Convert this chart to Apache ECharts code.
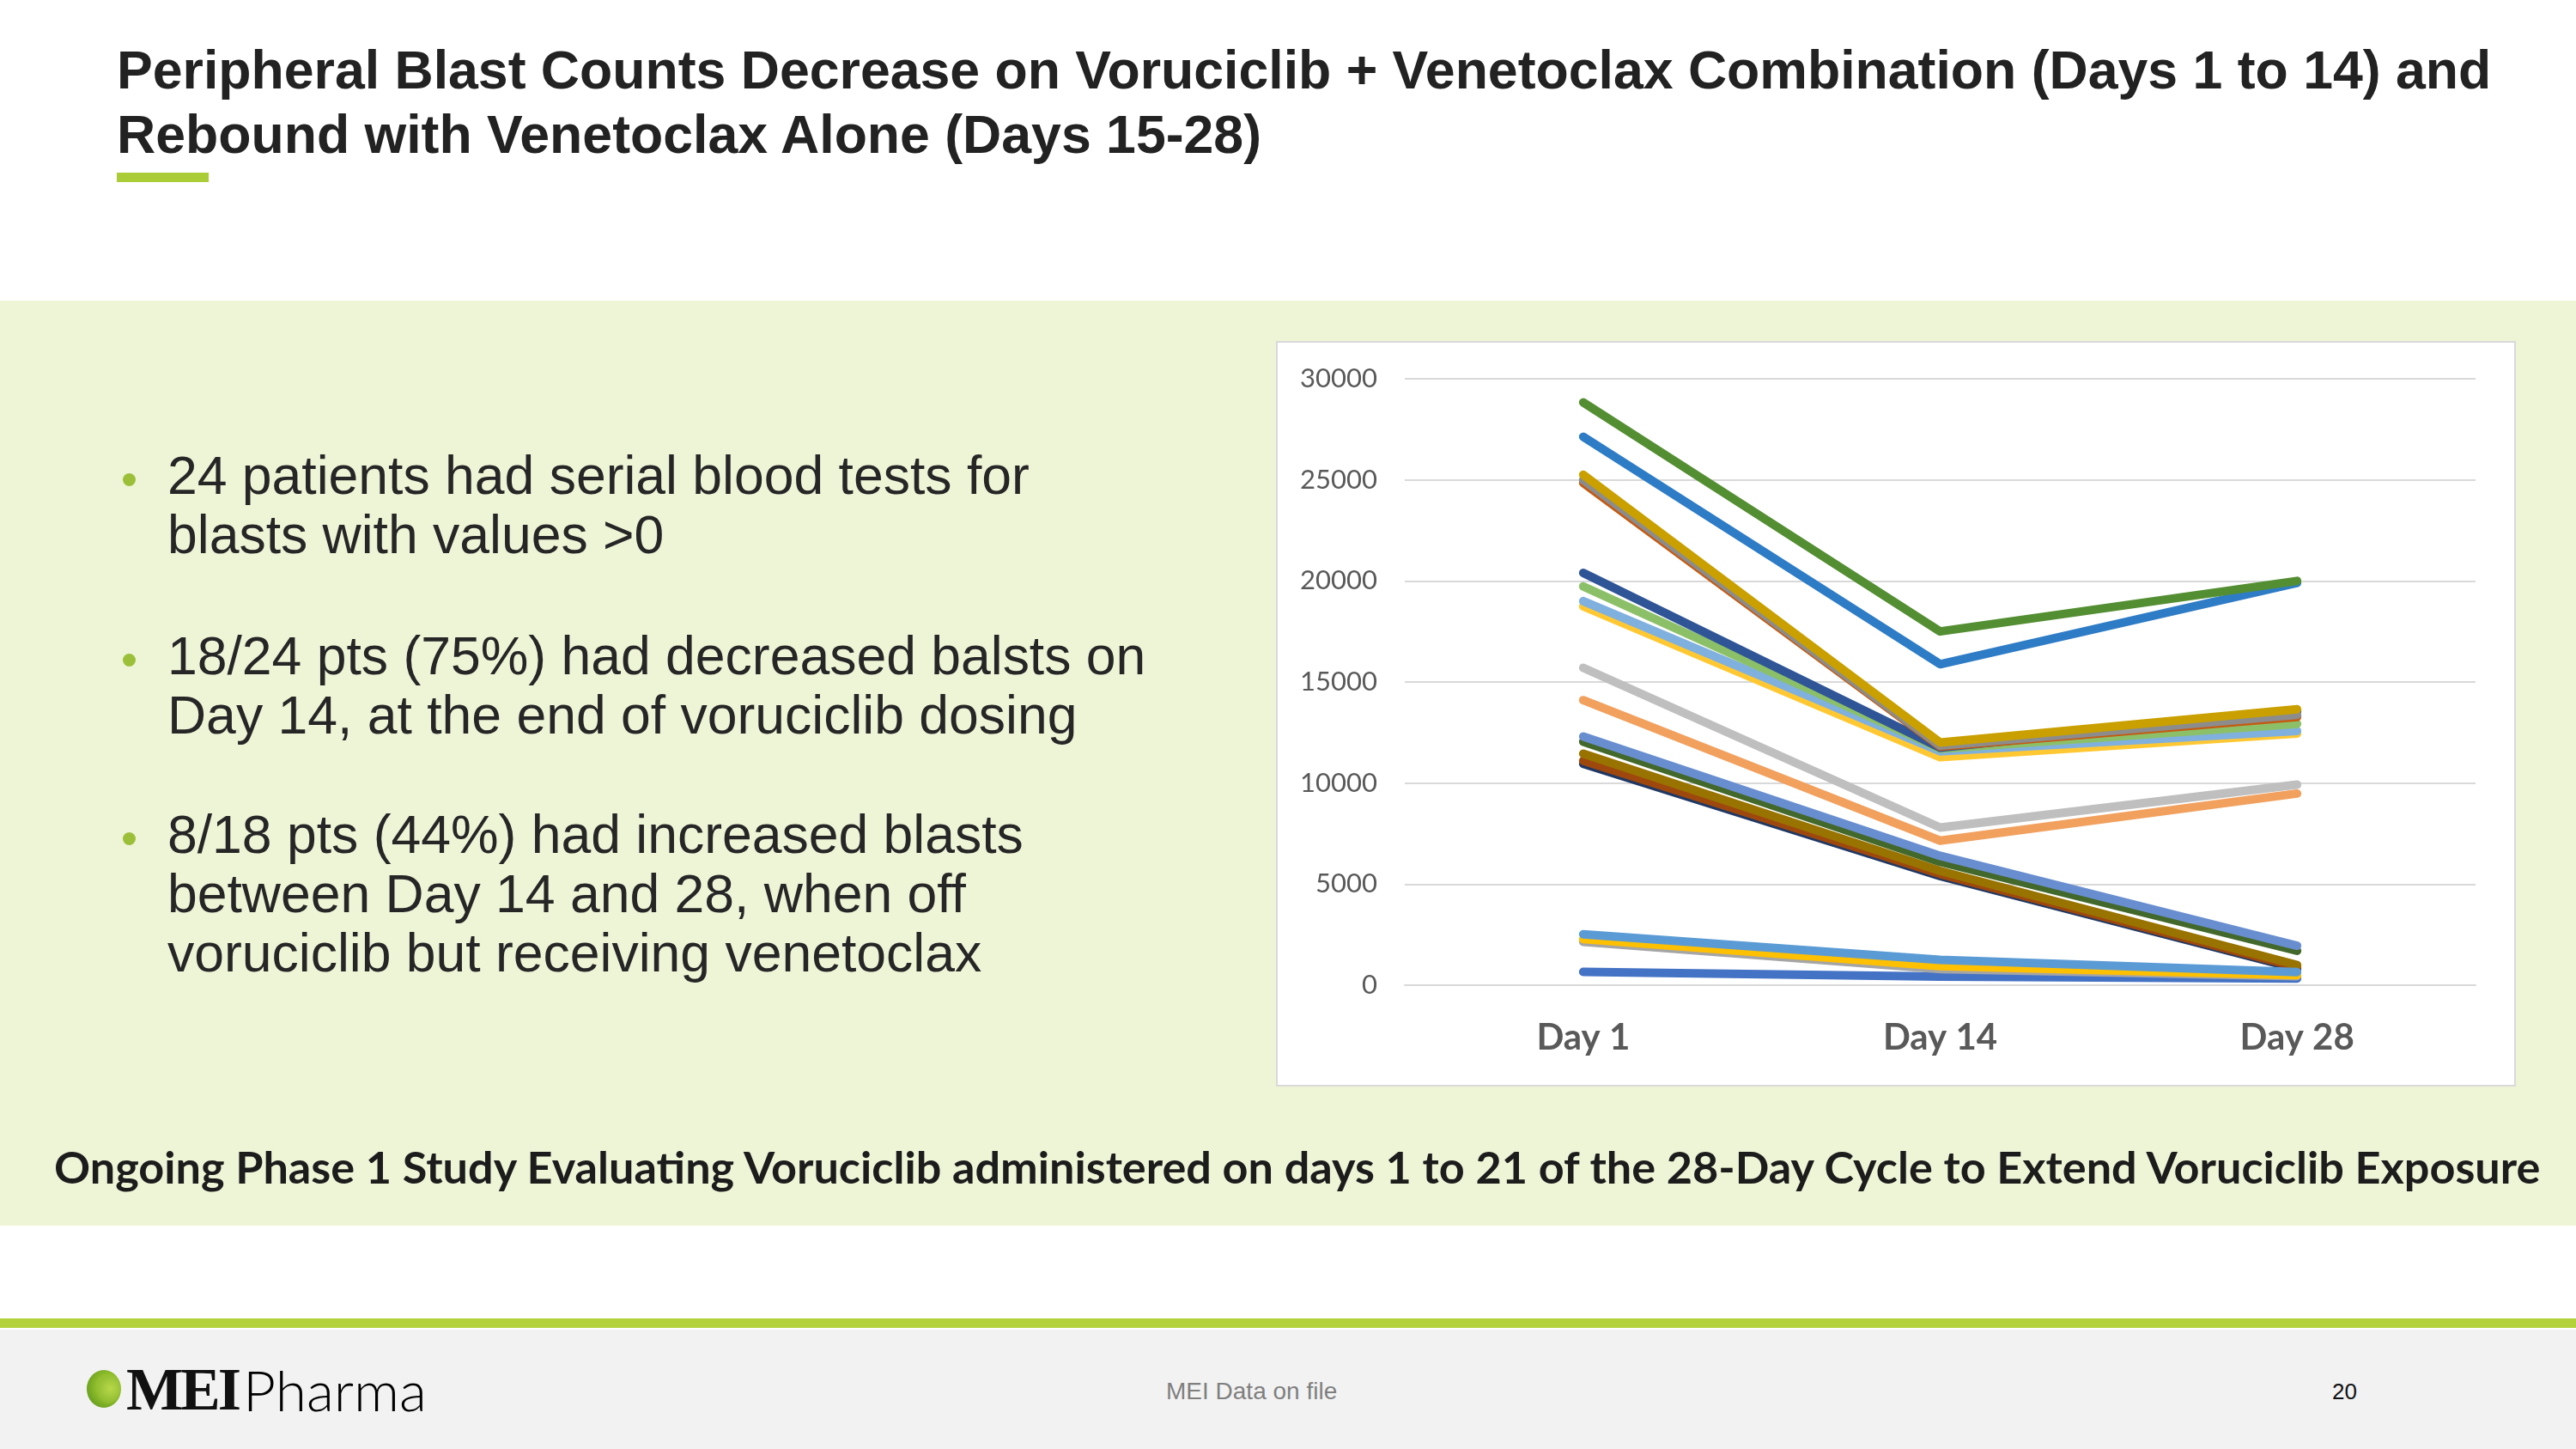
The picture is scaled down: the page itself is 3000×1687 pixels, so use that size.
<!DOCTYPE html>
<html>
<head>
<meta charset="utf-8">
<script src="https://cdn.jsdelivr.net/npm/echarts@6/dist/echarts.min.js"></script>
<style>
  html, body { margin:0; padding:0; width:3000px; height:1687px; background:#ffffff; overflow:hidden; }
  .abs { position:absolute; }
  .title { left:136px; font-family:"Liberation Sans", Arial, sans-serif; font-weight:bold; color:#222222; white-space:nowrap; font-size:60px; line-height:75px; }
  .bul { left:195px; font-family:"Liberation Sans", Arial, sans-serif; color:#262626; white-space:nowrap; font-size:61px; line-height:69px; }
  .dot { width:15px; height:15px; border-radius:50%; background:#9CBF3A; }
</style>
</head>
<body>
<div class="abs" style="left:0;top:350px;width:3000px;height:1077px;background:#EEF5D7;"></div>
<div class="abs" style="left:0;top:1535px;width:3000px;height:11px;background:#B3D13A;"></div>
<div class="abs" style="left:0;top:1548px;width:3000px;height:139px;background:#F2F2F2;"></div>

<div id="t1" class="abs title" style="top:44px;">Peripheral Blast Counts Decrease on Voruciclib + Venetoclax Combination (Days 1 to 14) and</div>
<div id="t2" class="abs title" style="top:119px;">Rebound with Venetoclax Alone (Days 15-28)</div>
<div class="abs" style="left:136px;top:201px;width:107px;height:11px;background:#AACC36;"></div>

<div class="abs dot" style="left:143px;top:551px;"></div>
<div id="b1" class="abs bul" style="top:519px;">24 patients had serial blood tests for</div>
<div class="abs bul" style="top:588px;">blasts with values &gt;0</div>
<div class="abs dot" style="left:143px;top:761px;"></div>
<div class="abs bul" style="top:729px;">18/24 pts (75%) had decreased balsts on</div>
<div class="abs bul" style="top:798px;">Day 14, at the end of voruciclib dosing</div>
<div class="abs dot" style="left:143px;top:969px;"></div>
<div class="abs bul" style="top:937px;">8/18 pts (44%) had increased blasts</div>
<div class="abs bul" style="top:1006px;">between Day 14 and 28, when off</div>
<div class="abs bul" style="top:1075px;">voruciclib but receiving venetoclax</div>

<div class="abs" style="left:1486px;top:397px;width:1440px;height:864px;background:#ffffff;border:2px solid #D9D9D9;"></div>

<div id="bottom" class="abs" style="left:63px;top:1328px;font-family:Lato, 'Open Sans', sans-serif;font-weight:bold;color:#1c1c1c;font-size:49px;line-height:60px;white-space:nowrap;">Ongoing Phase 1 Study Evaluating Voruciclib administered on days 1 to 21 of the 28-Day Cycle to Extend Voruciclib Exposure</div>

<div class="abs" style="left:101px;top:1595px;width:40px;height:44px;border-radius:50%;background:radial-gradient(circle at 65% 45%, #C8E060 0%, #8DBB2A 45%, #4E8A1A 100%);"></div>
<div class="abs" style="left:113px;top:1602px;width:26px;height:32px;border-radius:50%;background:radial-gradient(circle at 60% 45%, #B8D84A 0%, #7FB026 100%);"></div>
<div id="logo1" class="abs" style="left:147px;top:1583px;font-family:'Liberation Serif', serif;font-weight:bold;color:#111;font-size:70px;line-height:70px;white-space:nowrap;letter-spacing:-3px;">MEI</div>
<div id="logo2" class="abs" style="left:283px;top:1583px;font-family:Lato, 'Open Sans', sans-serif;font-weight:300;color:#000;font-size:64px;line-height:70px;white-space:nowrap;">Pharma</div>
<div class="abs" style="left:1358px;top:1603px;font-family:'Liberation Sans', Arial, sans-serif;color:#7f7f7f;font-size:28px;line-height:34px;white-space:nowrap;">MEI Data on file</div>
<div class="abs" style="left:2716px;top:1603px;font-family:'Liberation Sans', Arial, sans-serif;color:#111;font-size:26px;line-height:34px;white-space:nowrap;">20</div>

<div id="chart" class="abs" style="left:0;top:0;width:3000px;height:1687px;"></div>

<script>
// ---- data ----
const categories = ['Day 1', 'Day 14', 'Day 28'];
const yTicks = [0, 5000, 10000, 15000, 20000, 25000, 30000];

const pt01 = [10950, 5400, 820];
const pt02 = [11100, 5500, 900];
const pt03 = [11450, 5650, 1000];
const pt04 = [12050, 6100, 1700];
const pt05 = [12300, 6400, 1950];
const pt06 = [660, 420, 330];
const pt07 = [2150, 800, 450];
const pt08 = [2280, 950, 500];
const pt09 = [2520, 1250, 650];
const pt10 = [14100, 7150, 9480];
const pt11 = [15700, 7800, 9920];
const pt12 = [18740, 11280, 12450];
const pt13 = [19000, 11570, 12580];
const pt14 = [19730, 11700, 12930];
const pt15 = [20400, 11750, 13550];
const pt16 = [24850, 11800, 13270];
const pt17 = [25000, 11850, 13370];
const pt18 = [25250, 12000, 13650];
const pt19 = [27130, 15880, 19900];
const pt20 = [28830, 17500, 20000];

const patients = [pt01, pt02, pt03, pt04, pt05, pt06, pt07, pt08, pt09, pt10,
                  pt11, pt12, pt13, pt14, pt15, pt16, pt17, pt18, pt19, pt20];

// ---- styles ----
const colors = ['#203864', '#9E480E', '#997300', '#43682B', '#698ED0',
                '#4472C4', '#A5A5A5', '#FFC000', '#5B9BD5', '#F2A05E',
                '#BFBFBF', '#FFC832', '#7FB0DE', '#8CC068', '#2F5597',
                '#C55A11', '#8C8C8C', '#C9A000', '#2E7CC6', '#548E33'];

// fit text widths to the slide
function fitWidth(id, target) {
  const el = document.getElementById(id);
  const fs = parseFloat(getComputedStyle(el).fontSize);
  const w = el.getBoundingClientRect().width;
  const nfs = fs * target / w;
  el.style.fontSize = nfs + 'px';
  return nfs;
}
const tfs = fitWidth('t1', 2766);
document.getElementById('t2').style.fontSize = tfs + 'px';
const bfs = fitWidth('b1', 1004);
document.querySelectorAll('.bul').forEach(e => e.style.fontSize = bfs + 'px');
fitWidth('bottom', 2896);
fitWidth('logo2', 214);

const chart = echarts.init(document.getElementById('chart'), null, {renderer: 'canvas'});
chart.setOption({
  backgroundColor: 'transparent',
  animation: false,
  grid: { left: 1636, right: 117, top: 441, bottom: 540 },
  xAxis: {
    type: 'category',
    data: categories,
    boundaryGap: true,
    axisLine: { show: true, lineStyle: { color: '#D9D9D9', width: 2 } },
    axisTick: { show: false },
    axisLabel: { fontFamily: 'Lato', fontWeight: 'bold', fontSize: 42, color: '#595959', margin: 40 }
  },
  yAxis: {
    type: 'value',
    min: yTicks[0],
    max: yTicks[yTicks.length - 1],
    interval: yTicks[1] - yTicks[0],
    axisLine: { show: false },
    axisTick: { show: false },
    axisLabel: { fontFamily: 'Lato', fontSize: 31, color: '#595959', margin: 32, formatter: v => String(v) },
    splitLine: { lineStyle: { color: '#D9D9D9', width: 2 } }
  },
  series: patients.map((d, i) => ({
    type: 'line',
    data: d,
    symbol: 'none',
    smooth: false,
    lineStyle: { color: colors[i], width: 10, cap: 'round', join: 'round' },
    itemStyle: { color: colors[i] },
    z: 2 + i
  }))
});
</script>
</body>
</html>
